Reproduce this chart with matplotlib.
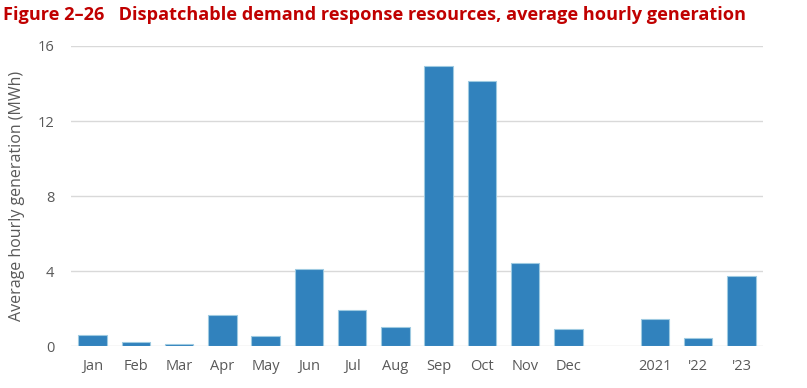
import matplotlib.pyplot as plt
import numpy as np

# Datos (MWh, generación horaria promedio)
categories = ["Jan", "Feb", "Mar", "Apr", "May", "Jun", "Jul", "Aug",
              "Sep", "Oct", "Nov", "Dec", "", "2021", "'22", "'23"]
values = [0.59, 0.23, 0.12, 1.65, 0.52, 4.09, 1.90, 1.01,
          14.95, 14.13, 4.41, 0.89, np.nan, 1.44, 0.43, 3.72]
y_ticks = [0, 4, 8, 12, 16]

BAR_COLOR = "#3182bd"
EDGE_COLOR = "#9ecae1"
TEXT_GRAY = "#595959"
GRID_GRAY = "#d9d9d9"

plt.rcParams["font.family"] = ["Open Sans", "DejaVu Sans"]

fig = plt.figure(figsize=(8.07, 3.88), dpi=100)
ax = fig.add_axes([0.088, 0.108, 0.8575, 0.7735])

x = np.arange(len(categories))
ax.bar(x, values, width=0.66, color=BAR_COLOR, edgecolor=EDGE_COLOR,
       linewidth=0.8, zorder=3)

ax.set_xlim(-0.5, len(categories) - 0.5)
ax.set_ylim(0, 16)
ax.set_yticks(y_ticks)
ax.set_xticks(x)
ax.set_xticklabels(categories)

ax.grid(axis="y", color=GRID_GRAY, linewidth=1, zorder=0)
for s in ax.spines.values():
    s.set_visible(False)
ax.tick_params(axis="both", length=0, colors=TEXT_GRAY, labelsize=10.5)
ax.tick_params(axis="x", pad=9)
ax.tick_params(axis="y", pad=12)

ax.set_ylabel("Average hourly generation (MWh)", color=TEXT_GRAY,
              fontsize=11.5, labelpad=9)

fig.text(0.004, 0.985, "Figure 2\u201326   Dispatchable demand response resources, average hourly generation",
         color="#c00000", fontsize=13.1, fontweight="bold", ha="left", va="top")

fig.savefig("out.png", dpi=100)
